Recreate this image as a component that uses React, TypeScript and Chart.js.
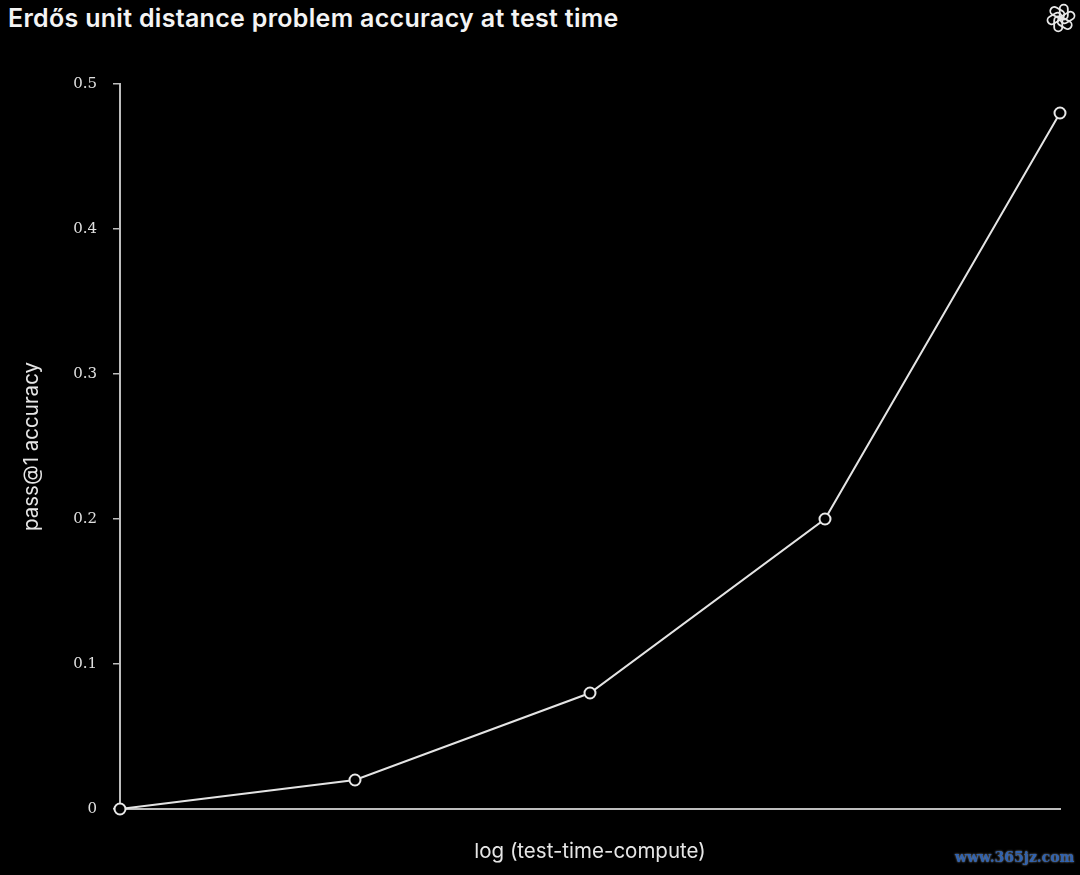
import React, { useEffect, useRef } from "react";
import { Chart, registerables } from "chart.js";

Chart.register(...registerables);

const categories: string[] = ["c1", "c2", "c3", "c4", "c5"];
const accuracy: number[] = [0, 0.02, 0.08, 0.2, 0.48];
const yTicks: number[] = [0, 0.1, 0.2, 0.3, 0.4, 0.5];
const titleText = "Erdős unit distance problem accuracy at test time";
const xTitle = "log (test-time-compute)";
const yTitle = "pass@1 accuracy";
const watermark = "www.365jz.com";

function Logo() {
  const petals = [0, 60, 120, 180, 240, 300];
  return (
    <svg width="32" height="32" viewBox="-15 -15 30 30" style={{ position: "absolute", left: 1045, top: 2 }}>
      {petals.map((a) => (
        <rect key={a} x={-3.8} y={-12.5} width={7.6} height={14} rx={3.8} fill="none" stroke="#e8e8e8" strokeWidth={1.7} transform={`rotate(${a}) translate(2.6,0)`} />
      ))}
    </svg>
  );
}

export default function App() {
  const ref = useRef<HTMLCanvasElement | null>(null);
  useEffect(() => {
    document.body.style.margin = "0";
    document.body.style.background = "#000";
    if (!ref.current) return;
    const chart = new Chart(ref.current, {
      type: "line",
      data: {
        labels: categories,
        datasets: [
          {
            data: accuracy,
            borderColor: "#e4e4e4",
            borderWidth: 2,
            pointRadius: 5.5,
            pointBackgroundColor: "#000",
            pointBorderColor: "#e8e8e8",
            pointBorderWidth: 2,
            tension: 0,
            clip: false,
          },
        ],
      },
      options: {
        animation: false,
        responsive: false,
        maintainAspectRatio: false,
        layout: { padding: { top: 84, right: 20, bottom: 0, left: 0 } },
        plugins: { legend: { display: false }, tooltip: { enabled: false }, title: { display: false } },
        scales: {
          x: {
            type: "category",
            offset: false,
            grid: { display: false, drawTicks: false },
            border: { display: true, color: "#bdbdbd", width: 2 },
            ticks: { display: false },
            title: {
              display: true,
              text: xTitle,
              color: "#e6e6e6",
              font: { family: "Inter", size: 20.5 },
              padding: { top: 0, bottom: 11 },
            },
            afterFit: (s: any) => {
              s.height = 66;
            },
          },
          y: {
            min: 0,
            max: 0.5,
            afterBuildTicks: (s: any) => {
              s.ticks = yTicks.map((v) => ({ value: v }));
            },
            grid: { display: true, drawOnChartArea: false, drawTicks: true, tickLength: 7, color: "#bdbdbd", lineWidth: 1.5 },
            border: { display: true, color: "#bdbdbd", width: 2 },
            ticks: {
              color: "#e0e0e0",
              padding: 16,
              font: { family: "DejaVu Serif", size: 15 },
              callback: (v: any) => (Number(v) === 0 ? "0" : Number(v).toFixed(1)),
            },
            title: {
              display: true,
              text: yTitle,
              color: "#e6e6e6",
              font: { family: "Inter", size: 20.5 },
              padding: { top: 20, bottom: 0 },
            },
            afterFit: (s: any) => {
              s.width = 120;
            },
          },
        },
      },
    });
    return () => chart.destroy();
  }, []);

  return (
    <div style={{ position: "relative", width: 1080, height: 875, background: "#000", overflow: "hidden" }}>
      <div
        style={{
          position: "absolute",
          left: 8,
          top: 6,
          color: "#f4f4f4",
          fontFamily: "Inter, sans-serif",
          fontWeight: 600,
          fontSize: 25,
          lineHeight: "25px",
          letterSpacing: 0.3,
          whiteSpace: "nowrap",
        }}
      >
        {titleText}
      </div>
      <Logo />
      <canvas ref={ref} width={1080} height={875} style={{ position: "absolute", left: 0, top: 0, width: 1080, height: 875 }} />
      <div
        style={{
          position: "absolute",
          left: 955,
          top: 849,
          color: "#2f62b0",
          fontFamily: "DejaVu Serif, serif",
          fontWeight: 700,
          fontSize: 14,
          textShadow: "0 0 2px #aaa",
          whiteSpace: "nowrap",
        }}
      >
        {watermark}
      </div>
    </div>
  );
}
